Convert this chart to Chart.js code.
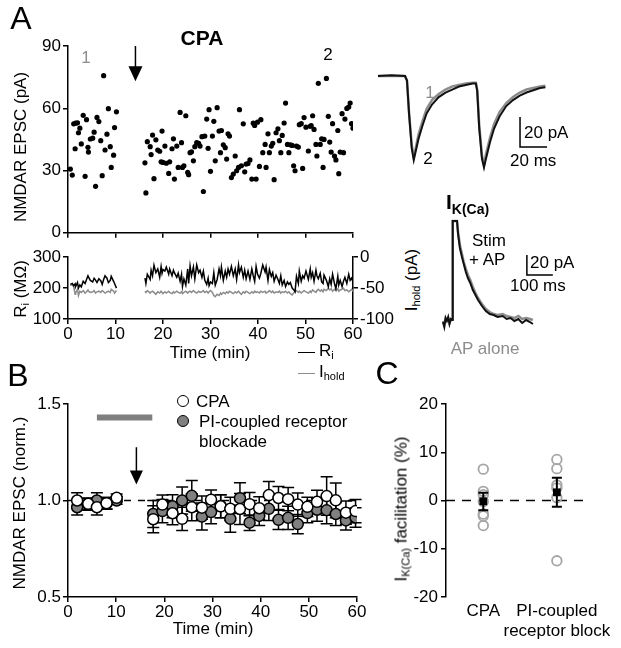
<!DOCTYPE html>
<html>
<head>
<meta charset="utf-8">
<title>CPA NMDAR EPSC</title>
<script src="https://cdn.jsdelivr.net/npm/chart.js@4.4.1/dist/chart.umd.min.js"></script>
<style>
  html, body { margin: 0; padding: 0; background: #fff; }
  #fig { position: relative; width: 621px; height: 648px; overflow: hidden;
         font-family: 'Liberation Sans', Arial, sans-serif; color: #000; }
  #fig canvas { position: absolute; }
  .lbl { position: absolute; white-space: nowrap; font-size: 17px; line-height: 1;
         transform: translate(-50%, -50%); z-index: 2; }
  .lbl.left { transform: translate(0, -50%); }
  .lbl.rot { transform: translate(-50%, -50%) rotate(-90deg); }
  .panel { font-size: 32px; }
  .gray { color: #8c8c8c; }
  sub { font-size: 11px; vertical-align: -3px; line-height: 0; }
  .key { position: absolute; height: 0; width: 17px; border-top: 1.5px solid #000; z-index: 2; }
  .dot { position: absolute; width: 10px; height: 10px; border-radius: 50%;
         border: 1.5px solid #000; transform: translate(-50%, -50%); z-index: 2; }
</style>
</head>
<body>
<div id="fig">
  <canvas id="cScatter" width="370" height="215" style="left:0;top:30px"></canvas>
  <canvas id="cAccess" width="400" height="110" style="left:0;top:245px"></canvas>
  <canvas id="cEpsc" width="190" height="120" style="left:370px;top:60px"></canvas>
  <canvas id="cIk" width="140" height="140" style="left:430px;top:200px"></canvas>
  <canvas id="cNorm" width="370" height="258" style="left:0;top:390px"></canvas>
  <canvas id="cFacil" width="251" height="258" style="left:370px;top:390px"></canvas>

  <div class="lbl panel" style="left:21px;top:18px">A</div>
  <div class="lbl" style="left:202px;top:37px;font-weight:bold;font-size:21px">CPA</div>
  <div class="lbl gray" style="left:86px;top:57px">1</div>
  <div class="lbl" style="left:328px;top:54px">2</div>
  <div class="lbl rot" style="left:20px;top:147px">NMDAR EPSC (pA)</div>
  <div class="lbl rot" style="left:20px;top:289px">R<sub>i</sub> (MΩ)</div>
  <div class="lbl" style="left:210px;top:352px">Time (min)</div>
  <div class="key" style="left:298px;top:352px"></div>
  <div class="lbl left" style="left:319px;top:350px">R<sub>i</sub></div>
  <div class="key" style="left:298px;top:373px;border-color:#8c8c8c"></div>
  <div class="lbl left" style="left:319px;top:371px">I<sub>hold</sub></div>
  <div class="lbl rot" style="left:411px;top:280px">I<sub>hold</sub> (pA)</div>

  <div class="lbl gray" style="left:430px;top:92px">1</div>
  <div class="lbl" style="left:428px;top:158px">2</div>
  <div class="lbl left" style="left:524px;top:132px">20 pA</div>
  <div class="lbl left" style="left:510px;top:160px">20 ms</div>
  <div class="lbl left" style="left:446px;top:201px;font-weight:bold;font-size:21px">I<sub style="font-size:14px;vertical-align:-5px">K(Ca)</sub></div>
  <div class="lbl left" style="left:472px;top:240px">Stim</div>
  <div class="lbl left" style="left:469px;top:259px">+ AP</div>
  <div class="lbl left" style="left:530px;top:262px">20 pA</div>
  <div class="lbl left" style="left:510px;top:285px">100 ms</div>
  <div class="lbl gray" style="left:485px;top:348px">AP alone</div>

  <div class="lbl panel" style="left:18px;top:375px">B</div>
  <div class="lbl rot" style="left:19px;top:503px">NMDAR EPSC (norm.)</div>
  <div class="lbl" style="left:213px;top:628px">Time (min)</div>
  <div class="dot" style="left:183px;top:401px;background:#fff"></div>
  <div class="lbl left" style="left:196px;top:401px">CPA</div>
  <div class="dot" style="left:183px;top:421px;background:#808080"></div>
  <div class="lbl left" style="left:199px;top:421px">PI-coupled receptor</div>
  <div class="lbl left" style="left:199px;top:441px">blockade</div>

  <div class="lbl panel" style="left:387px;top:373px">C</div>
  <div class="lbl rot" style="left:401px;top:509px">I<sub>K(Ca)</sub> facilitation (%)</div>
</div>

<script>
// ---- panel A: single cell, baseline sweeps (0-10 min) ----
const baseTime = [0.5, 0.9, 1.2, 1.5, 1.6, 2.0, 2.2, 2.5, 2.8, 3.2, 3.6, 3.9, 4.2, 4.3, 4.7, 5.2, 5.5, 5.8, 6.1, 6.5, 6.9, 7.2, 7.5, 7.8, 8.2, 8.5, 8.9, 9.1, 9.6, 9.8, 10.2];
const baseEpsc = [30.7, 27.8, 52.5, 40.5, 52.8, 53.0, 48.2, 50.4, 42.8, 56.6, 27.2, 54.5, 41.2, 38.9, 45.2, 45.6, 48.5, 22.4, 55.6, 53.6, 44.4, 27.5, 75.7, 39.9, 47.5, 59.8, 41.5, 31.5, 37.4, 50.7, 58.3];
const baseRi = [212, 215, 208, 214, 205, 218, 200, 210, 204, 222, 215, 228, 240, 236, 225, 220, 232, 226, 218, 230, 224, 212, 228, 240, 232, 218, 225, 238, 222, 215, 200];
const baseIhold = [-46, -44, -48, -60, -58, -52, -62, -55, -57, -54, -58, -56, -53, -55, -57, -56, -54, -58, -56, -55, -57, -54, -56, -58, -56, -55, -57, -52, -55, -58, -54];

// ---- panel A: sweeps after CPA (16-60 min) ----
const cpaTime = [16.2, 16.4, 16.7, 17.3, 17.5, 17.8, 18.1, 18.5, 18.9, 19.3, 19.6, 19.8, 20.0, 20.4, 20.7, 21.2, 21.4, 21.9, 22.2, 22.4,
  22.9, 23.2, 23.6, 23.9, 24.1, 24.4, 24.8, 25.2, 25.4, 25.7, 26.0, 26.4, 26.7, 27.1, 27.5, 27.8, 28.2, 28.5, 28.8, 29.2,
  29.5, 29.7, 30.0, 30.4, 30.7, 31.0, 31.4, 31.8, 32.1, 32.3, 32.7, 33.1, 33.4, 33.7, 34.0, 34.4, 34.8, 35.2, 35.5, 35.9,
  36.1, 36.5, 36.9, 37.2, 37.5, 37.9, 38.3, 38.7, 39.0, 39.3, 39.6, 39.9, 40.3, 40.6, 41.0, 41.5, 41.7, 42.1, 42.4, 42.8,
  43.1, 43.4, 43.8, 44.2, 44.5, 44.8, 45.1, 45.5, 45.8, 46.2, 46.5, 46.8, 47.2, 47.5, 47.8, 48.1, 48.5, 48.7, 49.1, 49.4,
  49.7, 50.1, 50.6, 51.0, 51.2, 51.5, 51.8, 52.2, 52.4, 52.7, 53.1, 53.4, 53.7, 53.9, 54.4, 54.8, 55.1, 55.4, 55.7, 56.1,
  56.4, 56.8, 57.0, 57.3, 57.7, 58.0, 58.3, 58.7, 59.1, 59.4, 59.7, 60.0];
const cpaEpsc = [33.7, 19.2, 43.9, 41.5, 37.7, 47.1, 26.1, 44.8, 39.9, 39.3, 34.2, 49.0, 33.9, 41.8, 33.5, 28.6, 34.2, 40.5, 45.3, 25.9,
  41.8, 31.5, 58.0, 43.4, 31.5, 32.3, 56.4, 29.1, 28.0, 38.6, 39.0, 34.7, 41.5, 43.4, 43.1, 41.8, 46.3, 19.9, 46.6, 54.8,
  40.7, 59.3, 29.6, 46.6, 53.7, 34.7, 60.3, 49.0, 38.6, 49.3, 42.4, 41.0, 35.5, 47.7, 46.6, 26.6, 28.3, 37.0, 29.9, 31.5,
  59.3, 32.3, 52.5, 29.4, 33.1, 33.4, 35.1, 25.9, 52.8, 51.7, 25.9, 53.3, 32.0, 54.5, 38.6, 42.6, 31.5, 47.7, 38.6, 41.8,
  43.1, 25.6, 48.2, 50.1, 44.4, 38.6, 46.9, 52.9, 62.5, 42.6, 38.6, 42.4, 42.1, 32.3, 29.9, 41.8, 41.3, 52.1, 52.6, 31.0,
  55.5, 50.9, 39.4, 51.3, 51.7, 56.4, 49.8, 42.6, 37.0, 72.0, 42.6, 45.3, 31.5, 45.0, 74.4, 56.1, 43.7, 38.9, 52.6, 37.0,
  35.1, 49.3, 28.5, 38.9, 57.4, 38.6, 54.8, 59.9, 60.6, 62.5, 52.6, 50.4];
const cpaRi = [232, 215, 245, 228, 258, 240,
  274, 250, 262, 235, 270, 248, 260,
  255, 268, 245, 262, 240, 258, 250, 235, 248,
  222, 245, 205, 230, 210, 262, 215,
  272, 240, 268, 230, 275, 250, 258, 235, 255,
  225, 212, 232, 208, 220, 215, 250, 210, 228,
  262, 240, 268, 225, 255, 235, 262, 245, 270,
  240, 262, 228, 275, 250, 268, 235, 258, 230,
  255, 228, 262, 240, 222, 270, 245, 232, 248,
  275, 252, 268, 225, 260, 238, 250, 222, 242,
  228, 215, 240, 210, 225, 205, 220, 212, 218, 200,
  195, 188, 238, 215, 255, 222, 240, 232,
  255, 228, 262, 235, 250, 222, 258, 240, 230,
  248, 220, 215, 242, 225, 205, 230, 212, 245,
  215, 198, 238, 210, 225, 205, 222, 235,
  215, 245, 225, 232, 220];
const cpaIhold = [-55, -57, -54, -58, -56, -55,
  -57, -60, -56, -58, -55, -57, -59,
  -56, -58, -55, -57, -59, -56, -58, -55, -57,
  -58, -56, -59, -57, -55, -58, -56,
  -55, -57, -54, -56, -58, -55, -57, -56, -54,
  -57, -55, -58, -56, -54, -57, -62, -64, -60,
  -62, -58, -60, -57, -59, -56, -58, -55, -57,
  -59, -56, -58, -55, -57, -60, -56, -58, -55,
  -57, -59, -56, -58, -55, -57, -56, -58, -55,
  -57, -55, -58, -56, -54, -57, -55, -58, -56,
  -57, -55, -58, -56, -57, -55, -58, -56, -59, -61,
  -58, -56, -54, -57, -55, -58, -56, -54,
  -56, -58, -55, -57, -53, -55, -57, -54, -52,
  -55, -53, -56, -52, -54, -50, -53, -51, -55,
  -52, -54, -51, -55, -53, -52, -50, -54,
  -53, -56, -54, -52, -55];
const drugOnset = 14.2; // min, arrow

// ---- example EPSC pair (ms, pA): sweep 1 gray, sweep 2 black ----
const epscTime = [0, 10, 20, 21.5, 23, 25, 26.5, 28, 30, 33, 36, 40, 45, 50, 55, 60, 65, 70, 72.5, 73.5, 75, 77, 78.5, 80, 83, 86, 90, 95, 100, 105, 110, 115, 120, 124];
const epscSweep1 = [0, 0, 0, -3, -24, -46, -54, -48, -39, -30, -22, -16, -12, -9, -7, -6, -5, -4.5, -4.5, -9, -33, -53, -59, -52, -41, -32, -24, -18, -14, -11, -9, -8, -7, -6.5];
const epscSweep2 = [0, 0.5, 0, -3, -25, -48, -56, -50, -42, -33, -25, -19, -14, -11, -9, -7, -6, -5, -5, -10, -35, -55, -61, -55, -44, -35, -27, -20, -16, -13, -11, -9.5, -8, -7.5];

// ---- IK(Ca) traces (ms, pA) ----
const ikTime = [0, 5, 10, 15, 20, 25, 30, 35, 37, 38, 54, 58, 65, 73, 80, 88, 96, 105, 115, 125, 135, 150, 165, 180, 195, 210, 230, 245, 260, 275, 290, 305, 320, 335, 346];
const ikStimAP = [-2, -7, 2, -1, 3, -4, 1, 0, 40, 99, 99, 86, 72, 63, 56, 48, 42, 37, 30, 25, 20, 14, 9, 6, 5, 3, 4, 1, 2, -1, 1, -3, 0, -2, -4];
const ikAPAlone = [-1, -5, 1, 0, 2, -3, 0, 1, 40, 99, 99, 88, 75, 66, 58, 51, 45, 40, 33, 27, 22, 16, 11, 8, 6, 5, 6, 4, 3, 2, 4, 1, 2, 1, 0];
const scaleBar = { ms: 20, pA: 20, ikMs: 100, ikPA: 20 };

// ---- panel B: group averages ----
const normTime = [1.9, 4.2, 6.0, 8.0, 10.1, 17.7, 19.6, 21.7, 23.7, 25.7, 27.8, 29.7, 31.7, 33.7, 35.7, 37.7, 39.7, 41.7, 43.7, 45.7, 47.7, 49.7, 51.7, 53.7, 55.6, 57.7, 59.7];
const cpaNorm = [1.0, 0.983, 0.965, 0.986, 1.014, 0.903, 0.979, 0.934, 0.905, 0.965, 0.963, 1.004, 0.970, 0.957, 0.956, 0.981, 0.960, 1.028, 1.013, 1.007, 0.979, 0.967, 0.993, 1.023, 1.001, 0.937, 0.945];
const cpaNormSem = [0.04, 0.03, 0.04, 0.03, 0.02, 0.07, 0.05, 0.06, 0.06, 0.07, 0.06, 0.05, 0.06, 0.06, 0.08, 0.06, 0.06, 0.07, 0.06, 0.06, 0.06, 0.05, 0.06, 0.10, 0.09, 0.06, 0.06];
const piNorm = [0.965, 0.98, 1.0, 0.985, 1.0, 0.93, 0.945, 0.97, 1.0, 1.024, 0.917, 0.94, 0.97, 0.905, 1.012, 0.885, 0.92, 0.957, 0.9, 0.91, 0.878, 0.935, 0.952, 0.95, 0.93, 0.897, 0.912];
const piNormSem = [0.04, 0.03, 0.04, 0.03, 0.02, 0.07, 0.06, 0.06, 0.07, 0.08, 0.07, 0.06, 0.06, 0.07, 0.08, 0.04, 0.05, 0.06, 0.05, 0.06, 0.05, 0.05, 0.06, 0.07, 0.06, 0.05, 0.05];
const drugBar = [6, 17.5]; // min, gray bar
const drugBarLevel = 1.43;

// ---- panel C ----
const facilGroups = ['CPA', ['PI-coupled', 'receptor block']];
const cpaFacil = [6.5, 1.9, 1.2, -0.2, -2.8, -3.2, -5.2];
const piFacil = [8.5, 6.6, 3.2, 2.6, 0.6, -12.5];
const facilMean = [-0.2, 1.7];
const facilSem = [1.8, 3.0];

Chart.defaults.font.family = "'Liberation Sans', Arial, sans-serif";
Chart.defaults.font.size = 17;
Chart.defaults.color = '#000';
Chart.defaults.plugins.legend.display = false;
Chart.defaults.plugins.tooltip.enabled = false;

const errorBars = {
  id: 'errorBars',
  draw(chart, front) {
    const ctx = chart.ctx;
    chart.data.datasets.forEach((ds, i) => {
      if (!ds.errors || !!ds.errorsOnTop !== front) return;
      const meta = chart.getDatasetMeta(i);
      const ys = chart.scales[meta.yAxisID];
      const cap = ds.capHalf || 6;
      ctx.save();
      ctx.strokeStyle = '#000';
      ctx.lineWidth = ds.errorWidth || 1.5;
      meta.data.forEach((pt, j) => {
        const v = ds.data[j].y, e = ds.errors[j];
        const top = ys.getPixelForValue(v + e), bot = ys.getPixelForValue(v - e);
        ctx.beginPath();
        ctx.moveTo(pt.x, top); ctx.lineTo(pt.x, bot);
        ctx.moveTo(pt.x - cap, top); ctx.lineTo(pt.x + cap, top);
        ctx.moveTo(pt.x - cap, bot); ctx.lineTo(pt.x + cap, bot);
        ctx.stroke();
      });
      ctx.restore();
    });
  },
  beforeDatasetsDraw(chart) { this.draw(chart, false); },
  afterDatasetsDraw(chart) { this.draw(chart, true); }
};

const drugArrow = {
  id: 'drugArrow',
  afterDatasetsDraw(chart, args, opts) {
    if (!opts || opts.x == null) return;
    const ctx = chart.ctx;
    const px = chart.scales.x.getPixelForValue(opts.x);
    const top = chart.scales.y.getPixelForValue(opts.yTop);
    const tip = chart.scales.y.getPixelForValue(opts.yTip);
    const hl = opts.head || 15, hw = opts.halfWidth || 7;
    ctx.save();
    ctx.strokeStyle = '#000';
    ctx.fillStyle = '#000';
    ctx.lineWidth = 1.5;
    ctx.beginPath();
    ctx.moveTo(px, top); ctx.lineTo(px, tip - hl + 1);
    ctx.stroke();
    ctx.beginPath();
    ctx.moveTo(px - hw, tip - hl); ctx.lineTo(px + hw, tip - hl); ctx.lineTo(px, tip);
    ctx.closePath();
    ctx.fill();
    ctx.restore();
  }
};
Chart.register(errorBars, drugArrow);

const base = { responsive: false, animation: false, devicePixelRatio: 1, events: [] };

function axis(pos, size, min, max, step, ticks) {
  const horiz = pos === 'bottom' || pos === 'top';
  return {
    type: 'linear', position: pos, min: min, max: max,
    border: { color: '#000', width: 1.5 },
    grid: { drawOnChartArea: false, color: '#000', lineWidth: 1.5, tickLength: 5 },
    ticks: Object.assign({ stepSize: step, color: '#000', padding: 2 }, ticks || {}),
    afterFit(scale) { if (horiz) scale.height = size; else scale.width = size; }
  };
}

function pts(xs, ys) { return xs.map((x, i) => ({ x: x, y: ys[i] })); }

// A: EPSC amplitude per sweep
new Chart(document.getElementById('cScatter'), {
  type: 'scatter',
  data: {
    datasets: [baseEpsc, cpaEpsc].map((vals, k) => ({
      data: pts(k ? cpaTime : baseTime, vals),
      pointRadius: 2.6, pointBackgroundColor: '#000', pointBorderWidth: 0
    }))
  },
  options: Object.assign({}, base, {
    layout: { padding: { top: 16, right: 17, left: 0, bottom: 0 } },
    scales: {
      x: axis('bottom', 10, 0, 60, 10, { display: false }),
      y: axis('left', 68, 0, 90, 30)
    },
    plugins: { drugArrow: { x: drugOnset, yTop: 90, yTip: 73, head: 15, halfWidth: 7 } }
  })
});

// A: input resistance and holding current
function traceSet(xs, ys, color, axisId) {
  return { data: pts(xs, ys), yAxisID: axisId, borderColor: color, borderWidth: 1.5, pointRadius: 0, tension: 0 };
}
new Chart(document.getElementById('cAccess'), {
  type: 'line',
  data: {
    datasets: [
      traceSet(baseTime, baseRi, '#000', 'y'),
      traceSet(cpaTime, cpaRi, '#000', 'y'),
      traceSet(baseTime, baseIhold, '#8c8c8c', 'y2'),
      traceSet(cpaTime, cpaIhold, '#8c8c8c', 'y2')
    ]
  },
  options: Object.assign({}, base, {
    layout: { padding: { top: 10, right: 0, left: 0, bottom: 0 } },
    scales: {
      x: axis('bottom', 36, 0, 60, 10, { padding: 0 }),
      y: axis('left', 68, 100, 300, 100),
      y2: axis('right', 47, -100, 0, 50)
    }
  })
});

// example EPSCs with scale bar
const epscAnchor = { x: 105.2, y: -47.3 };
new Chart(document.getElementById('cEpsc'), {
  type: 'line',
  data: {
    datasets: [
      { data: pts(epscTime, epscSweep2), borderColor: '#111', borderWidth: 2, pointRadius: 0 },
      { data: pts(epscTime, epscSweep1), borderColor: '#8c8c8c', borderWidth: 2.5, pointRadius: 0 },
      { data: [{ x: epscAnchor.x, y: epscAnchor.y + scaleBar.pA }, epscAnchor, { x: epscAnchor.x + scaleBar.ms, y: epscAnchor.y }],
        borderColor: '#000', borderWidth: 1.5, pointRadius: 0 }
    ]
  },
  options: Object.assign({}, base, {
    layout: { padding: 0 },
    scales: {
      x: { type: 'linear', display: false, min: -5.9, max: 134.8 },
      y: { type: 'linear', display: false, min: -69.3, max: 10.7 }
    }
  })
});

// IK(Ca) with scale bar
const ikAnchor = { x: 323, y: 45 };
new Chart(document.getElementById('cIk'), {
  type: 'line',
  data: {
    datasets: [
      { data: pts(ikTime, ikStimAP), borderColor: '#111', borderWidth: 2, pointRadius: 0 },
      { data: pts(ikTime, ikAPAlone), borderColor: '#8c8c8c', borderWidth: 2.5, pointRadius: 0 },
      { data: [{ x: ikAnchor.x, y: ikAnchor.y + scaleBar.ikPA }, ikAnchor, { x: ikAnchor.x + scaleBar.ikMs, y: ikAnchor.y }],
        borderColor: '#000', borderWidth: 1.5, pointRadius: 0 }
    ]
  },
  options: Object.assign({}, base, {
    layout: { padding: 0 },
    scales: {
      x: { type: 'linear', display: false, min: -50, max: 489 },
      y: { type: 'linear', display: false, min: -20, max: 120 }
    }
  })
});

// B: normalized EPSC
new Chart(document.getElementById('cNorm'), {
  type: 'scatter',
  data: {
    datasets: [
      { data: pts(normTime, cpaNorm), errors: cpaNormSem, capHalf: 6,
        pointRadius: 5.5, pointBackgroundColor: '#fff', pointBorderColor: '#000', pointBorderWidth: 1.5 },
      { data: pts(normTime, piNorm), errors: piNormSem, capHalf: 6,
        pointRadius: 5.5, pointBackgroundColor: '#808080', pointBorderColor: '#000', pointBorderWidth: 1.5 },
      { type: 'line', data: [{ x: 0, y: 1 }, { x: 60, y: 1 }], borderColor: '#000', borderWidth: 1.5,
        borderDash: [7, 7], pointRadius: 0 },
      { type: 'line', data: drugBar.map(t => ({ x: t, y: drugBarLevel })), borderColor: '#7f7f7f', borderWidth: 6,
        pointRadius: 0, borderCapStyle: 'butt' }
    ]
  },
  options: Object.assign({}, base, {
    layout: { padding: { top: 14, right: 13, left: 0, bottom: 0 } },
    scales: {
      x: axis('bottom', 51, 0, 60, 10, { padding: 0 }),
      y: axis('left', 68, 0.5, 1.5, 0.5, { callback: v => v.toFixed(1) })
    },
    plugins: { drugArrow: { x: drugOnset, yTop: 1.276, yTip: 1.083, head: 14, halfWidth: 6.5 } }
  })
});

// C: IK(Ca) facilitation
const facilMin = 0.493, facilMax = 2.373;
const xC = axis('bottom', 51, facilMin, facilMax, 1, { padding: 4, callback: v => facilGroups[v - 1] });
xC.border = { display: false };
xC.grid = { display: false, drawTicks: false };
xC.afterBuildTicks = scale => { scale.ticks = facilGroups.map((g, i) => ({ value: i + 1 })); };
new Chart(document.getElementById('cFacil'), {
  type: 'scatter',
  data: {
    datasets: [
      { data: facilMean.map((m, i) => ({ x: i + 1, y: m })), errors: facilSem, errorsOnTop: true, capHalf: 5, errorWidth: 2,
        pointStyle: 'rect', pointRadius: 5.5, pointBackgroundColor: '#000', pointBorderWidth: 0 },
      { data: cpaFacil.map(v => ({ x: 1, y: v })), pointRadius: 4.8, pointBackgroundColor: 'rgba(0,0,0,0)',
        pointBorderColor: '#a6a6a6', pointBorderWidth: 1.8 },
      { data: piFacil.map(v => ({ x: 2, y: v })), pointRadius: 4.8, pointBackgroundColor: 'rgba(0,0,0,0)',
        pointBorderColor: '#a6a6a6', pointBorderWidth: 1.8 },
      { type: 'line', data: [{ x: facilMin, y: 0 }, { x: facilMax, y: 0 }], borderColor: '#000', borderWidth: 1.5,
        borderDash: [9, 7], pointRadius: 0 }
    ]
  },
  options: Object.assign({}, base, {
    layout: { padding: { top: 14, right: 34, left: 0, bottom: 0 } },
    scales: {
      x: xC,
      y: axis('left', 76, -20, 20, 10, { padding: 3 })
    }
  })
});
</script>
</body>
</html>
